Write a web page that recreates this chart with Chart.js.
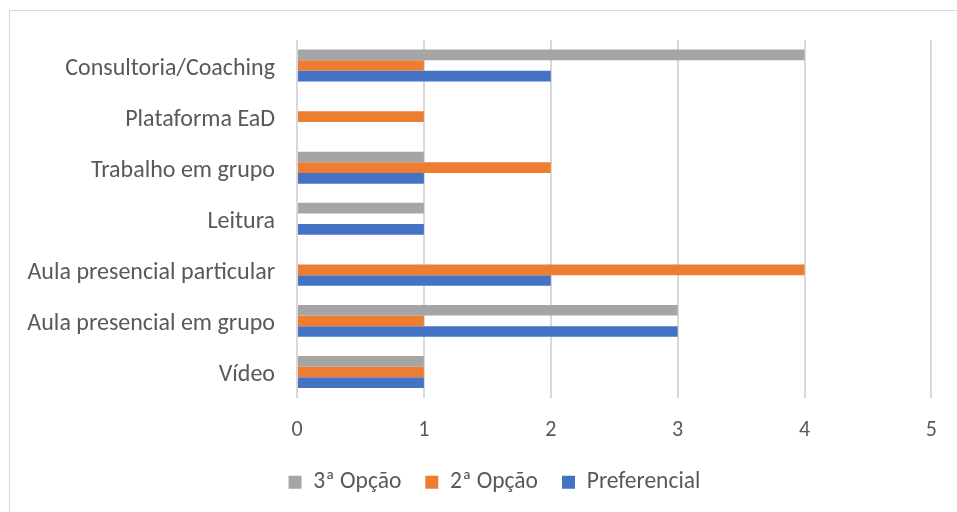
<!DOCTYPE html>
<html>
<head>
<meta charset="utf-8">
<script src="https://cdn.jsdelivr.net/npm/chart.js@4"></script>
<style>
  html, body { margin: 0; padding: 0; background: #fff; }
  #wrap { position: relative; width: 957px; height: 512px; }
  #frame { position: absolute; left: 9px; top: 10px; width: 960px; height: 520px; border: 1px solid #d9d9d9; box-sizing: border-box; }
  canvas { position: absolute; left: 0; top: 0; }
</style>
</head>
<body>
<div id="wrap">
  <div id="frame"></div>
  <canvas id="myChart" width="957" height="512"></canvas>
</div>
<script>
// categories top to bottom
const categories = ['Consultoria/Coaching', 'Plataforma EaD', 'Trabalho em grupo', 'Leitura',
  'Aula presencial particular', 'Aula presencial em grupo', 'Vídeo'];
const terceiraOpcao = [4, 0, 1, 1, 0, 3, 1];
const segundaOpcao = [1, 1, 2, 0, 4, 1, 1];
const preferencial = [2, 0, 1, 1, 2, 3, 1];
const xTicks = [0, 1, 2, 3, 4, 5];

const font = 'Calibri, Carlito, "Liberation Sans", sans-serif';
const textColor = '#595959';

// nudge the legend a bit to the right, like the original
const legendShift = {
  id: 'legendShift',
  afterLayout(chart) {
    chart.legend.left += 26;
    chart.legend.right += 26;
  }
};

const ctx = document.getElementById('myChart');
new Chart(ctx, {
  type: 'bar',
  data: {
    labels: categories,
    datasets: [
      { label: '3ª Opção', data: terceiraOpcao, backgroundColor: '#a5a5a5' },
      { label: '2ª Opção', data: segundaOpcao, backgroundColor: '#ed7d31' },
      { label: 'Preferencial', data: preferencial, backgroundColor: '#4472c4' }
    ]
  },
  plugins: [legendShift],
  options: {
    indexAxis: 'y',
    responsive: false,
    animation: false,
    layout: { padding: { top: 40, right: 20, left: 0, bottom: 8 } },
    datasets: { bar: { barPercentage: 1, categoryPercentage: 0.625 } },
    plugins: {
      tooltip: { enabled: false },
      legend: {
        position: 'bottom',
        labels: {
          boxWidth: 13, boxHeight: 13, padding: 24,
          color: textColor,
          font: { family: font, size: 23.5 }
        }
      }
    },
    scales: {
      x: {
        min: 0, max: 5,
        afterBuildTicks: s => { s.ticks = xTicks.map(v => ({ value: v })); },
        afterFit: s => { s.height = 49; },
        grid: { color: '#d9d9d9', lineWidth: 2, drawTicks: false },
        border: { display: false },
        ticks: { color: textColor, padding: 20, font: { family: font, size: 22 } }
      },
      y: {
        afterFit: s => { s.width = 297; },
        grid: { display: false, drawTicks: false },
        border: { display: false },
        ticks: { color: textColor, padding: 22, labelOffset: 3, font: { family: font, size: 24 } }
      }
    }
  }
});
</script>
</body>
</html>
